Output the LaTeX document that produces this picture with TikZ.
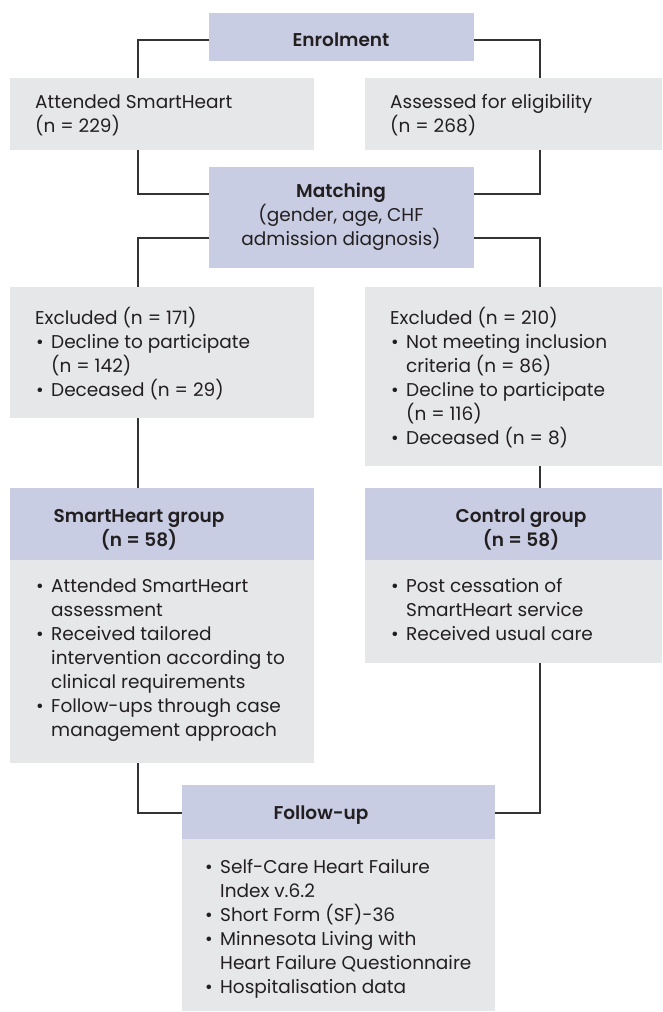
\documentclass[tikz,border=0pt]{standalone}
\usepackage{fontspec}
\setmainfont{Poppins}[BoldFont={Poppins SemiBold}]
\definecolor{hdr}{RGB}{200,205,227}
\definecolor{bdy}{RGB}{230,231,233}
\definecolor{ink}{RGB}{35,31,32}
\definecolor{ln}{RGB}{51,51,51}
\newcommand\bul{\makebox[16pt][l]{\hspace{1pt}\textbullet}}
\newcommand\ind{\hspace*{16pt}}
\newcommand\fst{\rule{0pt}{20pt}}
\tikzset{
  boxbase/.style={inner sep=0pt, outer sep=0pt, anchor=north west, draw=none},
  hbox/.style={boxbase, fill=hdr},
  gbox/.style={boxbase, fill=bdy},
  txt/.style={inner sep=0pt, text=ink, font=\fontsize{18.5}{24}\selectfont, align=left, anchor=north west},
  ctxt/.style={txt, align=center, anchor=north},
  conn/.style={draw=ln, line width=1.2pt},
}
\begin{document}
\begin{tikzpicture}[x=1pt,y=-1pt]
\useasboundingbox (0,0) rectangle (662,1012);
% boxes
\node[hbox, minimum width=265pt, minimum height=48pt] (enrol) at (209,13) {};
\node[gbox, minimum width=304pt, minimum height=72pt] (att) at (10,78) {};
\node[gbox, minimum width=297pt, minimum height=72pt] (ass) at (365,78) {};
\node[hbox, minimum width=265pt, minimum height=101pt] (match) at (209,167) {};
\node[gbox, minimum width=304pt, minimum height=131pt] (exL) at (10,287) {};
\node[gbox, minimum width=297pt, minimum height=179pt] (exR) at (365,287) {};
\node[hbox, minimum width=304pt, minimum height=72pt] (shH) at (10,488) {};
\node[gbox, minimum width=304pt, minimum height=203pt] (shB) at (10,560) {};
\node[hbox, minimum width=297pt, minimum height=72pt] (cgH) at (365,488) {};
\node[gbox, minimum width=297pt, minimum height=103pt] (cgB) at (365,560) {};
\node[hbox, minimum width=313pt, minimum height=54pt] (fuH) at (182,785) {};
\node[gbox, minimum width=313pt, minimum height=172pt] (fuB) at (182,839) {};
% connector columns
\coordinate (lx) at (138,0);
\coordinate (rx) at (540,0);
\coordinate (e1) at ([yshift=-27pt]enrol.north west);
\coordinate (e2) at ([yshift=-27pt]enrol.north east);
\coordinate (m1) at ([yshift=-27pt]match.north west);
\coordinate (m2) at ([yshift=-27pt]match.north east);
\coordinate (m3) at ([yshift=-71pt]match.north west);
\coordinate (m4) at ([yshift=-71pt]match.north east);
\coordinate (f1) at ([yshift=-28pt]fuH.north west);
\coordinate (f2) at ([yshift=-28pt]fuH.north east);
\draw[conn] (e1) -| (lx |- att.north);
\draw[conn] (e2) -| (rx |- ass.north);
\draw[conn] (lx |- att.south) |- (m1);
\draw[conn] (rx |- ass.south) |- (m2);
\draw[conn] (m3) -| (lx |- exL.north);
\draw[conn] (m4) -| (rx |- exR.north);
\draw[conn] (lx |- exL.south) -- (lx |- shH.north);
\draw[conn] (rx |- exR.south) -- (rx |- cgH.north);
\draw[conn] (lx |- shB.south) |- (f1);
\draw[conn] (rx |- cgB.south) |- (f2);
% texts
\node[ctxt] (tenrol) at (341,26) {\fst\textbf{Enrolment}};
\node[txt] (tatt) at (35,88) {\fst Attended SmartHeart\\(n = 229)};
\node[txt] (tass) at (390,88) {\fst Assessed for eligibility\\(n = 268)};
\node[ctxt] (tmatch) at (341,177) {\fst\textbf{Matching}\\(gender, age, CHF\\admission diagnosis)};
\node[txt] (texL) at (35,304) {\fst Excluded (n = 171)\\\bul Decline to participate\\\ind(n = 142)\\\bul Deceased (n = 29)};
\node[txt] (texR) at (390,304) {\fst Excluded (n = 210)\\\bul Not meeting inclusion\\\ind criteria (n = 86)\\\bul Decline to participate\\\ind(n = 116)\\\bul Deceased (n = 8)};
\node[ctxt] (tshH) at (139,502) {\fst\textbf{SmartHeart group}\\\textbf{(n = 58)}};
\node[ctxt] (tcgH) at (521,502) {\fst\textbf{Control group}\\\textbf{(n = 58)}};
\node[txt] (tshB) at (35,572) {\fst\bul Attended SmartHeart\\\ind assessment\\\bul Received tailored\\\ind intervention according to\\\ind clinical requirements\\\bul Follow-ups through case\\\ind management approach};
\node[txt] (tcgB) at (390,572) {\fst\bul Post cessation of\\\ind SmartHeart service\\\bul Received usual care};
\node[ctxt] (tfuH) at (321,799) {\fst\textbf{Follow-up}};
\node[txt] (tfuB) at (204,853) {\fst\bul Self-Care Heart Failure\\\ind Index v.6.2\\\bul Short Form (SF)-36\\\bul Minnesota Living with\\\ind Heart Failure Questionnaire\\\bul Hospitalisation data};
\end{tikzpicture}
\end{document}
